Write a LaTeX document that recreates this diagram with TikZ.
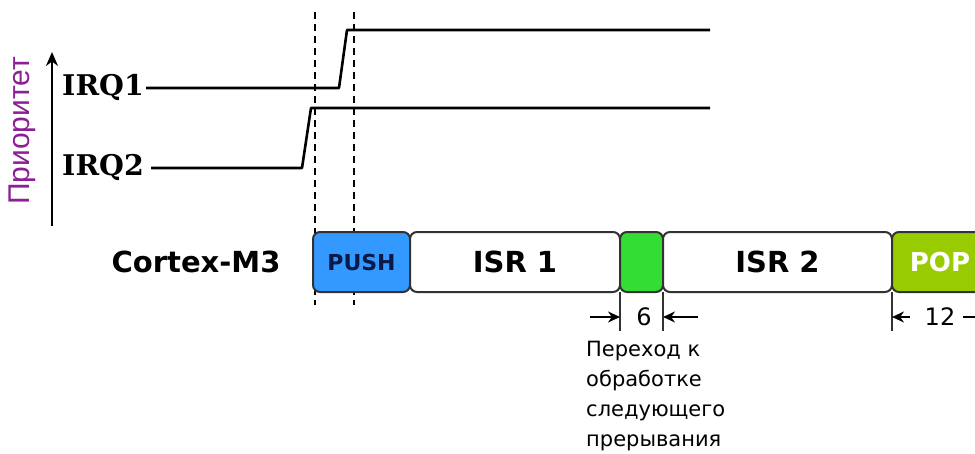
\documentclass[tikz,border=0pt]{standalone}
\usepackage{fontspec}
\setmainfont{DejaVu Sans}
\newfontfamily\irqfont{DejaVu Serif}
\newfontfamily\priofont{Liberation Sans}
\usetikzlibrary{positioning,arrows.meta}
\definecolor{pushblue}{RGB}{51,153,255}
\definecolor{nextgreen}{RGB}{51,221,51}
\definecolor{popgreen}{RGB}{153,204,0}
\definecolor{prioviolet}{RGB}{140,30,150}
\definecolor{edgegray}{RGB}{50,50,50}
\definecolor{pushtext}{RGB}{10,25,70}

\begin{document}
\begin{tikzpicture}[x=1pt,y=-1pt]
	\tikzset{seg/.style={draw=edgegray,line width=2pt,rounded corners=7pt,minimum height=60pt,inner sep=0pt,outer sep=0pt,font=\fontsize{29pt}{30pt}\bfseries\selectfont},
		sig/.style={line width=2.6pt,line join=round},
		guide/.style={line width=2.2pt,dash pattern=on 7pt off 5pt},
		irqlabel/.style={anchor=west,inner sep=2pt,font=\irqfont\fontsize{28.5pt}{30pt}\bfseries\selectfont},
		dimline/.style={line width=2pt,edgegray},
		dimarr/.style={line width=2pt,-{Stealth[length=12pt,width=11pt]}}
	}
	\useasboundingbox (0,0) rectangle (975,453);
	\clip (0,0) rectangle (975,453);

	% priority axis
	\coordinate (axlow) at (52,226);
	\coordinate (axhigh) at (52,52);
	\draw [line width=2pt,-{Stealth[length=14pt,width=12pt]}] (axlow) -- (axhigh);
	\node [rotate=90,text=prioviolet,font=\priofont\fontsize{30pt}{32pt}\selectfont] (prio) at (22,131) {Приоритет};

	% interrupt requests
	\node [irqlabel] (irq1) at (60,87) {IRQ1};
	\node [irqlabel] (irq2) at (60,167) {IRQ2};
	\coordinate (r1a) at (339,88);
	\coordinate (r1b) at (347,30);
	\coordinate (r1end) at (710,30);
	\coordinate (r2a) at (302,168);
	\coordinate (r2b) at (311,108);
	\coordinate (r2end) at (710,108);
	\draw [sig] (irq1.east |- r1a) -- (r1a) -- (r1b) -- (r1end);
	\draw [sig] ([xshift=5pt]irq2.east |- r2a) -- (r2a) -- (r2b) -- (r2end);

	% guides
	\coordinate (g1top) at (315,12);
	\coordinate (g1bot) at (315,305);
	\coordinate (g2top) at (354,12);
	\coordinate (g2bot) at (354,305);
	\draw [guide] (g1top) -- (g1bot)
		  (g2top) -- (g2bot);

	% processor timeline
	\node [anchor=east,font=\fontsize{29pt}{30pt}\bfseries\selectfont] (core) at (284,262) {Cortex-M3};
	\node [seg,fill=pushblue,minimum width=97pt,anchor=west,text=pushtext,font=\fontsize{22pt}{24pt}\bfseries\selectfont] (push) at (313,262) {PUSH\hspace{8pt}};
	\node [seg,fill=white,minimum width=210pt,right=0pt of push] (isr1) {ISR 1};
	\node [seg,fill=nextgreen,minimum width=43pt,right=0pt of isr1] (next) {};
	\node [seg,fill=white,minimum width=229pt,right=0pt of next] (isr2) {ISR 2};
	\node [seg,fill=popgreen,minimum width=96pt,right=0pt of isr2,text=white,font=\fontsize{26pt}{28pt}\bfseries\selectfont] (pop) {POP};

	% durations
	\coordinate (tick) at (0,331);
	\draw [dimline] (isr1.south east) -- (isr1.south east |- tick)
		  (isr2.south west) -- (isr2.south west |- tick)
		  (isr2.south east) -- (isr2.south east |- tick);
	\coordinate (a6l) at (590,317);
	\coordinate (a6r) at (698,317);
	\coordinate (a12l) at (910,317);
	\coordinate (a12r) at (963,317);
	\coordinate (a12end) at (998,317);
	\draw [dimarr] (a6l) -- (isr1.south east |- a6l);
	\draw [dimarr] (a6r) -- (isr2.south west |- a6r);
	\draw [dimarr] (a12l) -- (isr2.south east |- a12l);
	\draw [dimarr] (a12r) -- (a12end);
	\node [font=\fontsize{24pt}{26pt}\selectfont] (six) at (644,317) {6};
	\node [font=\fontsize{24pt}{26pt}\selectfont] (twelve) at (940,317) {12};
	\node [anchor=north west,align=left,inner sep=0pt,font=\fontsize{21pt}{30pt}\selectfont] (note) at (586,341) {Переход к\\обработке\\следующего\\прерывания};
\end{tikzpicture}
\end{document}
